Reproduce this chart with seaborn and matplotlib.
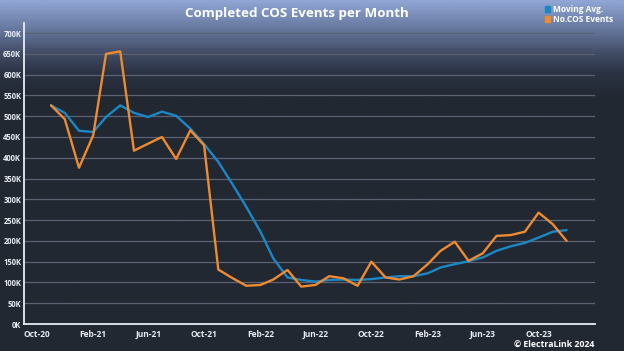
import numpy as np
import pandas as pd
import seaborn as sns
import matplotlib.pyplot as plt
import matplotlib.dates as mdates
from matplotlib.patches import Patch
from matplotlib.colors import LinearSegmentedColormap

# monthly values, Nov-20 .. Dec-23 (in thousands)
first_month = '2020-11-01'
cos_events = [526, 493, 376, 454, 650, 656, 417, 434, 450, 397, 466, 430,
              131, 111, 92, 94, 107, 130, 90, 94,
              115, 110, 92, 150, 112, 107, 115, 144, 176, 198, 152, 170,
              212, 214, 222, 268, 240, 200]
moving_avg = [526, 508, 465, 462, 498, 526, 508, 498, 511, 501, 470, 433,
              390, 338, 282, 222, 158, 112, 106, 102,
              106, 107, 106, 108, 112, 115, 115, 122, 136, 144, 151, 160,
              176, 187, 195, 208, 222, 226]
tick_labels = ['Oct-20', 'Feb-21', 'Jun-21', 'Oct-21', 'Feb-22', 'Jun-22',
               'Oct-22', 'Feb-23', 'Jun-23', 'Oct-23']

months = pd.date_range(first_month, periods=len(cos_events), freq='MS')
df = pd.DataFrame({'Month': list(months) * 2,
                   'Value': [v * 1000 for v in moving_avg] + [v * 1000 for v in cos_events],
                   'Series': ['Moving Avg.'] * len(months) + ['No.COS Events'] * len(months)})

blue = '#1b87c5'
orange = '#ee8a30'
bg = '#222832'
fg = '#e8ecf2'

sns.set_theme(style='dark')
plt.rcParams['font.family'] = ['Open Sans', 'DejaVu Sans']

fig = plt.figure(figsize=(6.24, 3.51), dpi=100)
fig.patch.set_facecolor(bg)

# gradient band at the top of the figure
bgax = fig.add_axes([0, 0, 1, 1], zorder=-1)
cmap = LinearSegmentedColormap.from_list('bg', [(0, '#90a5d4'), (0.09, '#617296'),
                                                (0.15, '#404b64'), (0.21, '#2a3141'),
                                                (0.28, bg), (1, bg)])
bgax.imshow(np.linspace(0, 1, 300).reshape(-1, 1), aspect='auto', cmap=cmap,
            extent=[0, 1, 0, 1])
bgax.axis('off')

ax = fig.add_axes([24 / 624, 1 - 324 / 351, (595 - 24) / 624, (324 - 22.7) / 351])
ax.set_facecolor('none')

sns.lineplot(data=df, x='Month', y='Value', hue='Series',
             palette={'Moving Avg.': blue, 'No.COS Events': orange},
             linewidth=1.7, ax=ax, legend=False)

ax.set_ylim(0, 725000)
ax.set_yticks(np.arange(0, 700001, 50000))
ax.set_yticklabels([f'{int(v / 1000)}K' for v in np.arange(0, 700001, 50000)])
ax.set_xlim(pd.Timestamp('2020-09-03'), pd.Timestamp('2024-02-01'))

major = pd.date_range('2020-10-01', periods=len(tick_labels), freq='4MS')
ax.set_xticks(major)
ax.set_xticklabels(tick_labels)
ax.xaxis.set_minor_locator(mdates.MonthLocator(bymonth=[2, 4, 6, 8, 10, 12]))

ax.grid(axis='y', color='#5b6272', linewidth=0.9)
ax.grid(axis='x', visible=False)
for s in ['top', 'right']:
    ax.spines[s].set_visible(False)
for s in ['left', 'bottom']:
    ax.spines[s].set_color(fg)
    ax.spines[s].set_linewidth(1.3)

ax.tick_params(axis='y', colors=fg, labelsize=5.5, length=0, pad=2)
ax.tick_params(axis='x', which='both', colors=fg, labelsize=6, length=2, width=0.8,
               direction='in', pad=4)
for lab in ax.get_xticklabels() + ax.get_yticklabels():
    lab.set_fontweight('bold')
ax.set_xlabel('')
ax.set_ylabel('')

fig.text(297 / 624, 1 - 13 / 351, 'Completed COS Events per Month', color='white',
         fontsize=9.6, fontweight='bold', ha='center', va='center')

handles = [Patch(color=blue, label='Moving Avg.'), Patch(color=orange, label='No.COS Events')]
leg = fig.legend(handles=handles, loc='upper left', bbox_to_anchor=(540 / 624, 1.0),
                 frameon=False, fontsize=6, handlelength=0.6, handleheight=0.7,
                 handletextpad=0.4, labelspacing=0.15, borderaxespad=0.2)
for t in leg.get_texts():
    t.set_color('white')
    t.set_fontweight('bold')

fig.text(594 / 624, 1 - 344 / 351, '\u00a9 ElectraLink 2024', color='white',
         fontsize=6.3, fontweight='bold', ha='right', va='center')

fig.savefig('out.png', dpi=100, facecolor=fig.get_facecolor())
